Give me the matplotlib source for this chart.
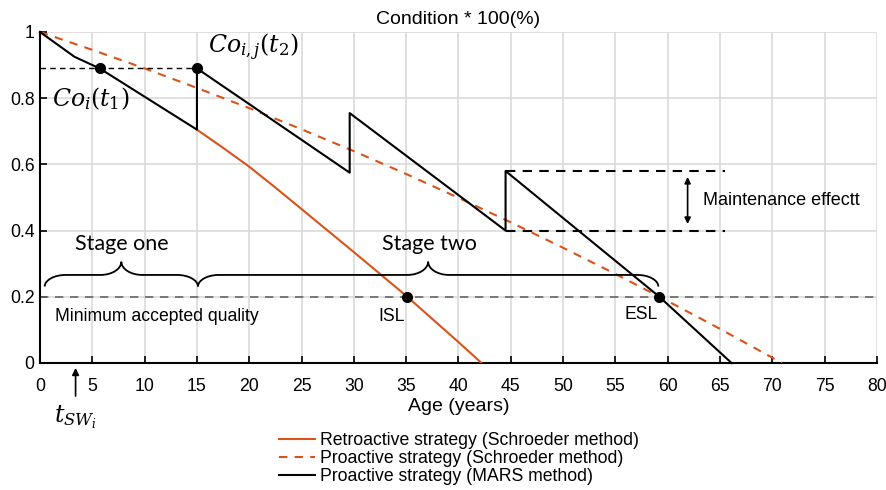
import numpy as np
import matplotlib
matplotlib.use("Agg")
import matplotlib.pyplot as plt
from matplotlib.path import Path
from matplotlib.patches import PathPatch

plt.rcParams['font.family'] = ['Liberation Sans', 'DejaVu Sans']
plt.rcParams['mathtext.fontset'] = 'dejavuserif'

ORANGE = '#D95319'

# retroactive strategy (Schroeder), visible after first maintenance point
retro_age = [15, 17.5, 20, 22.5, 25, 30, 35, 40, 42.2]
retro_cond = [0.705, 0.650, 0.593, 0.530, 0.465, 0.335, 0.203, 0.063, 0.0]

# proactive strategy (Schroeder)
pro_age = [0, 5, 10, 15, 20, 25, 30, 35, 40, 45, 50, 55, 60, 65, 70, 70.9]
pro_cond = [1.0, 0.946, 0.890, 0.831, 0.770, 0.706, 0.640, 0.571, 0.499,
            0.425, 0.348, 0.269, 0.187, 0.103, 0.016, 0.0]

# proactive strategy (MARS) with maintenance jumps
mars_age = [0, 3.3, 5.7, 15, 15, 29.6, 29.6, 44.5, 44.5, 59.2, 66.1]
mars_cond = [1.0, 0.925, 0.89, 0.705, 0.89, 0.575, 0.755, 0.40, 0.58, 0.2, 0.0]

# marked points
dot_age = [5.7, 15, 35.1, 59.2]
dot_cond = [0.89, 0.89, 0.2, 0.2]

min_quality = 0.2
maint_lo, maint_hi = 0.40, 0.58


def brace(ax, x0, x1, yb, yl, yp, w=2.0, wm=1.8):
    xm = (x0 + x1) / 2
    k = 0.55
    verts = [(x0, yb),
             (x0, yb + k * (yl - yb)), (x0 + w * (1 - k), yl), (x0 + w, yl),
             (xm - wm, yl),
             (xm - wm + wm * k, yl), (xm, yl + (yp - yl) * (1 - k)), (xm, yp),
             (xm, yl + (yp - yl) * (1 - k)), (xm + wm - wm * k, yl), (xm + wm, yl),
             (x1 - w, yl),
             (x1 - w * (1 - k), yl), (x1, yb + k * (yl - yb)), (x1, yb)]
    codes = [Path.MOVETO,
             Path.CURVE4, Path.CURVE4, Path.CURVE4,
             Path.LINETO,
             Path.CURVE4, Path.CURVE4, Path.CURVE4,
             Path.CURVE4, Path.CURVE4, Path.CURVE4,
             Path.LINETO,
             Path.CURVE4, Path.CURVE4, Path.CURVE4]
    ax.add_patch(PathPatch(Path(verts, codes), fill=False, lw=1.3,
                           color='black', zorder=4))


fig = plt.figure(figsize=(8.87, 4.9), dpi=100)
ax = fig.add_axes([0.0451, 0.2592, 0.9436, 0.6755])

ax.grid(True, color='#dadada', lw=1.2)
ax.set_axisbelow(True)

l1, = ax.plot(retro_age, retro_cond, color=ORANGE, lw=1.5, zorder=3,
              label='Retroactive strategy (Schroeder method)')
l2, = ax.plot(pro_age, pro_cond, color=ORANGE, lw=1.5, ls=(0, (4, 3.5)),
              zorder=3, label='Proactive strategy (Schroeder method)')
l3, = ax.plot(mars_age, mars_cond, color='black', lw=1.5, zorder=3,
              label='Proactive strategy (MARS method)', clip_on=False)

ax.axhline(min_quality, color='#666666', lw=1.2, ls=(0, (5, 4)), zorder=2)
ax.plot([0, 15], [0.89, 0.89], color='black', lw=1.0, ls=(0, (4, 3)), zorder=3)
ax.plot([44.5, 65.5], [maint_hi, maint_hi], color='black', lw=1.5,
        ls=(0, (4.5, 3.5)), zorder=3)
ax.plot([44.5, 65.5], [maint_lo, maint_lo], color='black', lw=1.5,
        ls=(0, (4.5, 3.5)), zorder=3)
ax.annotate('', xy=(61.9, 0.562), xytext=(61.9, 0.42),
            arrowprops=dict(arrowstyle='<|-|>', color='black', lw=1.2,
                            mutation_scale=9, shrinkA=0, shrinkB=0))
ax.text(63.4, 0.492, 'Maintenance effectt', fontsize=13, va='center')

ax.plot(dot_age, dot_cond, 'o', color='black', ms=7, zorder=5)

brace(ax, 0.45, 15.1, 0.231, 0.266, 0.306, w=2.0, wm=2.0)
brace(ax, 15.1, 59.1, 0.231, 0.266, 0.306, w=2.0, wm=2.0)
ax.text(7.8, 0.36, 'Stage one', fontsize=15.5, family='Lato',
        ha='center', va='center')
ax.text(37.2, 0.36, 'Stage two', fontsize=15.5, family='Lato',
        ha='center', va='center')

ax.text(1.4, 0.14, 'Minimum accepted quality', fontsize=12.7, va='center')
ax.text(33.6, 0.14, 'ISL', fontsize=12.7, ha='center', va='center')
ax.text(57.5, 0.145, 'ESL', fontsize=12.7, ha='center', va='center')

ax.text(16.1, 0.955, r'$Co_{i,j}(t_2)$', fontsize=17, va='center')
ax.text(1.15, 0.80, r'$Co_i(t_1)$', fontsize=17, va='center')
ax.text(3.35, -0.165, r'$t_{SW_i}$', fontsize=17, ha='center', va='center')
ax.annotate('', xy=(3.4, -0.015), xytext=(3.4, -0.1),
            arrowprops=dict(arrowstyle='-|>', color='black', lw=1.2,
                            mutation_scale=10, shrinkA=0, shrinkB=0),
            annotation_clip=False)

ax.set_xlim(0, 80)
ax.set_ylim(0, 1)
ax.set_xticks(np.arange(0, 81, 5))
ax.set_yticks([0, 0.2, 0.4, 0.6, 0.8, 1])
ax.set_yticklabels(['0', '0.2', '0.4', '0.6', '0.8', '1'])
ax.tick_params(direction='in', length=5, width=1.2, labelsize=12.7)
ax.tick_params(axis='x', pad=11)
ax.tick_params(axis='y', pad=4)
for s in ['top', 'right']:
    ax.spines[s].set_visible(False)
for s in ['left', 'bottom']:
    ax.spines[s].set_linewidth(1.5)

ax.set_title('Condition * 100(%)', fontsize=14, pad=6)
ax.set_xlabel('Age (years)', fontsize=14, labelpad=2)

fig.legend(handles=[l1, l2, l3], loc='upper center',
           bbox_to_anchor=(0.5175, 0.15), frameon=False, fontsize=12.7,
           handlelength=2.0, handletextpad=0.3, labelspacing=0.05)

fig.savefig('out.png', dpi=100)
